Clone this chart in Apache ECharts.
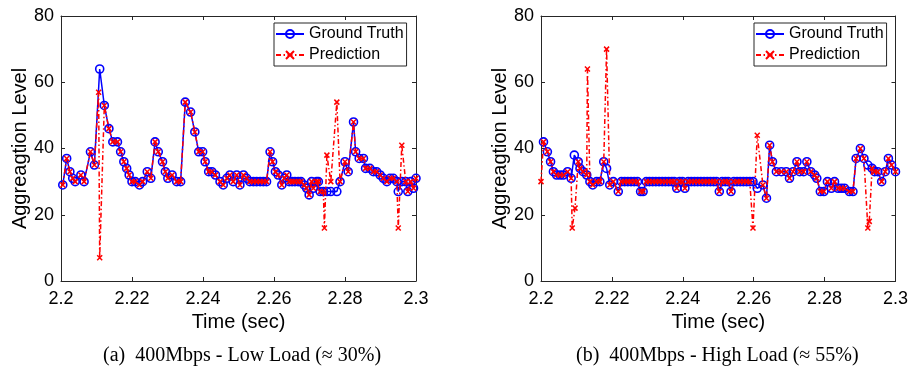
<!DOCTYPE html>
<html><head><meta charset="utf-8">
<script src="https://cdn.jsdelivr.net/npm/echarts@6/dist/echarts.min.js"></script>
<style>html,body{margin:0;padding:0;background:#fff}#c{width:911px;height:376px}</style>
</head><body><div id="c"></div>
<script>
// time offsets in milliseconds after 2.2 s
const leftTime  = [0.5,1.6,2.5,3.3,4.0,5.6,6.5,8.3,9.4,10.6,10.9,12.2,13.5,14.6,15.9,16.8,17.7,18.5,19.2,20.0,
  20.9,22.1,23.0,24.3,25.3,26.5,27.4,28.6,29.4,30.1,31.3,32.6,33.7,35.0,36.5,37.7,38.8,39.9,40.6,41.6,
  42.5,43.5,44.8,45.7,46.7,47.6,48.5,49.5,50.4,51.4,52.3,53.2,54.2,55.1,56.1,57.0,57.9,58.9,59.6,60.4,
  61.2,62.2,62.9,63.6,64.3,65.1,65.9,66.8,67.6,68.5,69.2,69.9,70.6,71.1,72.0,72.5,73.0,73.9,74.2,74.9,
  76.0,77.7,78.6,80.0,80.9,82.4,83.0,84.0,85.2,85.8,87.0,88.0,88.9,89.9,90.8,91.8,92.7,93.6,94.6,95.0,
  96.0,97.1,97.7,98.5,99.3,100.0];
const leftTruth = [29,37,33,31,30,32,30,39,35,null,64,53,46,42,42,39,36,34,32,30,
  30,29,30,33,31,42,39,36,33,31,32,30,30,54,51,45,39,39,36,33,
  33,32,30,29,31,32,30,32,29,32,31,30,30,30,30,30,30,39,36,33,
  32,29,31,32,30,30,30,30,30,29,28,26,30,28,30,30,27,27,null,27,
  27,27,30,36,33,48,39,37,37,34,34,33,33,32,31,30,31,31,30,27,
  30,30,27,30,28,31];
const leftPred  = [29,37,33,31,30,32,30,39,35,57,7,53,46,42,42,39,36,34,32,30,
  30,29,30,33,31,42,39,36,33,31,32,30,30,54,51,45,39,39,36,33,
  33,32,30,29,31,32,30,32,29,32,31,30,30,30,30,30,30,39,36,33,
  32,29,31,32,30,30,30,30,30,29,28,26,30,28,30,30,27,27,16,38,
  30,54,30,36,33,48,39,37,37,34,34,33,33,32,31,30,31,31,30,16,
  41,30,27,30,28,31];

const rightTime  = [0.0,0.7,1.8,2.7,3.5,4.4,5.4,6.3,7.5,8.5,8.8,9.4,9.6,10.5,11.0,11.9,12.9,13.1,13.8,14.6,
  15.7,16.6,17.7,18.5,19.4,20.4,21.8,22.7,23.6,24.5,25.4,26.3,27.2,28.1,28.8,29.7,30.6,31.5,32.4,33.3,
  34.2,35.1,36.0,36.9,37.6,38.3,39.1,39.9,40.6,41.5,42.4,43.3,44.2,45.1,46.0,46.9,47.8,48.7,49.5,50.3,
  51.1,52.0,52.8,53.6,54.4,55.3,56.2,57.1,58.0,58.9,59.8,61.0,62.6,63.6,64.5,65.3,66.4,67.8,69.2,70.1,
  71.1,72.2,73.0,74.1,75.0,76.1,77.2,77.8,78.8,79.8,80.8,81.9,82.8,83.8,84.7,85.6,87.0,88.0,88.9,90.1,
  91.1,92.2,92.6,93.4,94.1,95.0,96.1,97.1,98.0,98.9,100.0];
const rightTruth = [null,42,39,36,33,32,32,32,33,31,null,38,null,36,34,33,32,null,30,29,
  30,30,36,34,29,30,27,30,30,30,30,30,30,27,27,30,30,30,30,30,
  30,30,30,30,30,28,30,30,28,30,30,30,30,30,30,30,30,30,30,27,
  30,30,30,27,30,30,30,30,30,30,30,28,29,25,41,36,33,33,33,31,
  33,36,33,33,36,33,32,31,27,27,30,28,30,28,28,28,27,27,37,40,
  37,35,null,34,33,33,30,33,37,35,33];
const rightPred  = [30,42,39,36,33,32,32,32,33,31,16,null,22,36,34,33,32,64,30,29,
  30,30,36,70,29,30,27,30,30,30,30,30,30,27,27,30,30,30,30,30,
  30,30,30,30,30,28,30,30,28,30,30,30,30,30,30,30,30,30,30,27,
  30,30,30,27,30,30,30,30,30,30,16,44,29,25,41,36,33,33,33,31,
  33,36,33,33,36,33,32,31,27,27,30,28,30,28,28,28,27,27,37,40,
  37,16,18,34,33,33,30,33,37,35,33];

const seriesNames = ['Ground Truth', 'Prediction'];
const captions = ['(a)  400Mbps - Low Load (\u2248 30%)', '(b)  400Mbps - High Load (\u2248 55%)'];
const xTickBase = 2.2;

const pair = (t, v) => t.map((x, i) => [x, v[i]]);
const axisCol = '#262626';
const FONT = '"Liberation Sans", Arial, Helvetica, sans-serif';
const crossPath = 'path://M0,0L10,10M10,0L0,10';

const grids = [
  {left: 61, top: 16, width: 355, height: 265},
  {left: 541, top: 16, width: 355, height: 265}
];

function xAx(gi, top) {
  return {
    type: 'value', gridIndex: gi, min: 0, max: 100, interval: 20,
    position: top ? 'top' : 'bottom',
    name: top ? '' : 'Time (sec)', nameLocation: 'middle', nameGap: 29,
    nameTextStyle: {fontFamily: FONT, fontSize: 20, color: '#000'},
    axisLine: {show: true, onZero: false, lineStyle: {color: axisCol, width: 1}},
    axisTick: {show: true, inside: true, length: 4, lineStyle: {color: axisCol}},
    axisLabel: {show: !top, margin: 9, fontFamily: FONT, fontSize: 18, color: '#000',
      formatter: v => String(+(xTickBase + v / 1000).toFixed(2))},
    splitLine: {show: false}
  };
}
function yAx(gi, right) {
  return {
    type: 'value', gridIndex: gi, min: 0, max: 80, interval: 20,
    position: right ? 'right' : 'left',
    name: right ? '' : 'Aggreagtion Level', nameLocation: 'middle', nameGap: 30,
    nameTextStyle: {fontFamily: FONT, fontSize: 20, color: '#000'},
    axisLine: {show: true, onZero: false, lineStyle: {color: axisCol, width: 1}},
    axisTick: {show: true, inside: true, length: 4, lineStyle: {color: axisCol}},
    axisLabel: {show: !right, margin: 7, fontFamily: FONT, fontSize: 18, color: '#000'},
    splitLine: {show: false}
  };
}

function truthSeries(gi, t, v) {
  return {
    name: seriesNames[0], type: 'line', xAxisIndex: gi * 2, yAxisIndex: gi * 2,
    data: pair(t, v), connectNulls: true, symbol: 'circle', symbolSize: 8,
    showAllSymbol: true, animation: false, z: 2,
    lineStyle: {color: '#0000ff', width: 1.5},
    itemStyle: {color: 'rgba(0,0,0,0)', borderColor: '#0000ff', borderWidth: 1.6}
  };
}
function predSeries(gi, t, v) {
  return {
    name: seriesNames[1], type: 'line', xAxisIndex: gi * 2, yAxisIndex: gi * 2,
    data: pair(t, v), connectNulls: true, symbol: crossPath, symbolSize: 5,
    showAllSymbol: true, animation: false, z: 3,
    lineStyle: {color: '#ff0000', width: 1.5, type: [5, 2.5, 1.5, 2.5]},
    itemStyle: {color: 'rgba(0,0,0,0)', borderColor: '#ff0000', borderWidth: 1.5}
  };
}

function legendAt(left) {
  return {
    orient: 'vertical', left: left, top: 23, data: seriesNames,
    itemWidth: 28, itemHeight: 10, itemGap: 5, padding: [3, 3, 3, 1],
    borderColor: axisCol, borderWidth: 1, backgroundColor: '#fff',
    textStyle: {fontFamily: FONT, fontSize: 16, color: '#000'},
    selectedMode: false
  };
}

const chart = echarts.init(document.getElementById('c'), null, {renderer: 'canvas'});
chart.setOption({
  animation: false,
  backgroundColor: '#fff',
  grid: grids,
  xAxis: [xAx(0, false), xAx(0, true), xAx(1, false), xAx(1, true)],
  yAxis: [yAx(0, false), yAx(0, true), yAx(1, false), yAx(1, true)],
  legend: [legendAt(274), legendAt(754)],
  series: [
    truthSeries(0, leftTime, leftTruth), predSeries(0, leftTime, leftPred),
    truthSeries(1, rightTime, rightTruth), predSeries(1, rightTime, rightPred)
  ],
  graphic: [
    {type: 'text', left: 103, top: 346, style: {text: captions[0], font: '20px "Liberation Serif", "Times New Roman", serif', fill: '#000'}},
    {type: 'text', left: 576, top: 346, style: {text: captions[1], font: '20px "Liberation Serif", "Times New Roman", serif', fill: '#000'}}
  ]
});
</script></body></html>
